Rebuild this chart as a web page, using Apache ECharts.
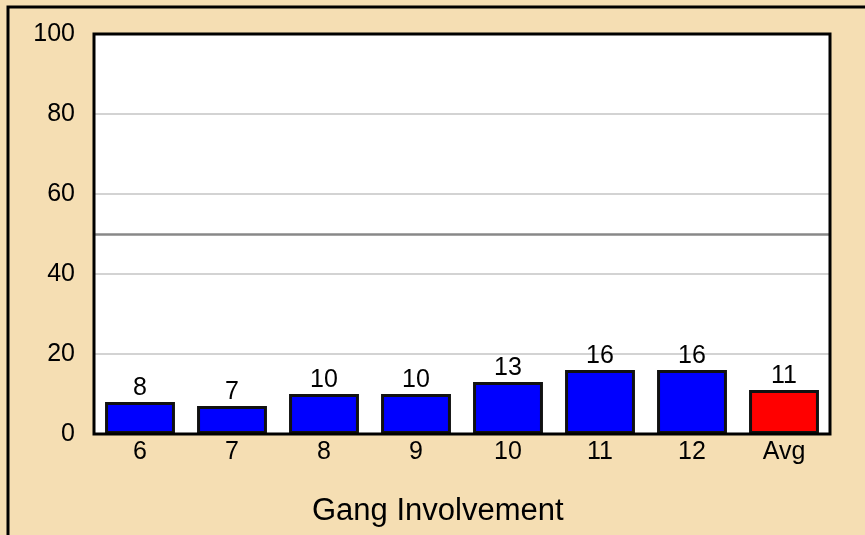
<!DOCTYPE html>
<html>
<head>
<meta charset="utf-8">
<script src="https://cdn.jsdelivr.net/npm/echarts@6/dist/echarts.min.js"></script>
<style>
  html, body { margin: 0; padding: 0; background: #f5deb3; }
  #chart { width: 865px; height: 535px; }
</style>
</head>
<body>
<div id="chart"></div>
<script>
const grades = ['6', '7', '8', '9', '10', '11', '12', 'Avg'];
const percents = [8, 7, 10, 10, 13, 16, 16, 11];
const yTicks = [0, 20, 40, 60, 80, 100];
const refLine = 50;

const chart = echarts.init(document.getElementById('chart'));

const font = 'Liberation Sans, Arial, sans-serif';
// plot box, same numbers as grid below
const box = { left: 94, top: 34, right: 35, bottom: 101 };

chart.setOption({
  backgroundColor: '#f5deb3',
  animation: false,
  textStyle: { fontFamily: font },
  graphic: [
    {
      type: 'rect',
      shape: { x: 8, y: 7, width: 900, height: 600 },
      style: { fill: null, stroke: '#000', lineWidth: 3 },
      z: 0
    },
    {
      type: 'rect',
      shape: { x: box.left, y: box.top, width: 865 - box.left - box.right, height: 535 - box.top - box.bottom },
      style: { fill: null, stroke: '#000', lineWidth: 3 },
      z: 100
    },
    {
      type: 'text',
      left: 312,
      top: 496,
      style: { text: 'Gang Involvement', fontSize: 31, fill: '#000', fontFamily: font }
    }
  ],
  grid: {
    left: box.left, right: box.right, top: box.top, bottom: box.bottom,
    show: true, backgroundColor: '#fff', borderWidth: 0
  },
  xAxis: {
    type: 'category',
    data: grades,
    axisLine: { show: false },
    axisTick: { show: false },
    axisLabel: { color: '#000', fontSize: 25, margin: 6 }
  },
  yAxis: {
    type: 'value',
    min: yTicks[0],
    max: yTicks[yTicks.length - 1],
    interval: 20,
    axisLine: { show: false },
    axisTick: { show: false },
    axisLabel: { color: '#000', fontSize: 25, margin: 19 },
    splitLine: { showMinLine: false, showMaxLine: false, lineStyle: { color: '#d3d3d3', width: 2 } }
  },
  series: [{
    type: 'bar',
    data: percents.map((v, i) => ({
      value: v,
      itemStyle: { color: i === percents.length - 1 ? '#ff0000' : '#0000ff' }
    })),
    barWidth: '76%',
    itemStyle: { borderColor: '#111', borderWidth: 3 },
    label: { show: true, position: 'top', color: '#000', fontSize: 25, distance: 1 },
    markLine: {
      silent: true,
      symbol: 'none',
      label: { show: false },
      lineStyle: { color: '#888', width: 2.5, type: 'solid' },
      data: [{ yAxis: refLine }]
    }
  }]
});
</script>
</body>
</html>
